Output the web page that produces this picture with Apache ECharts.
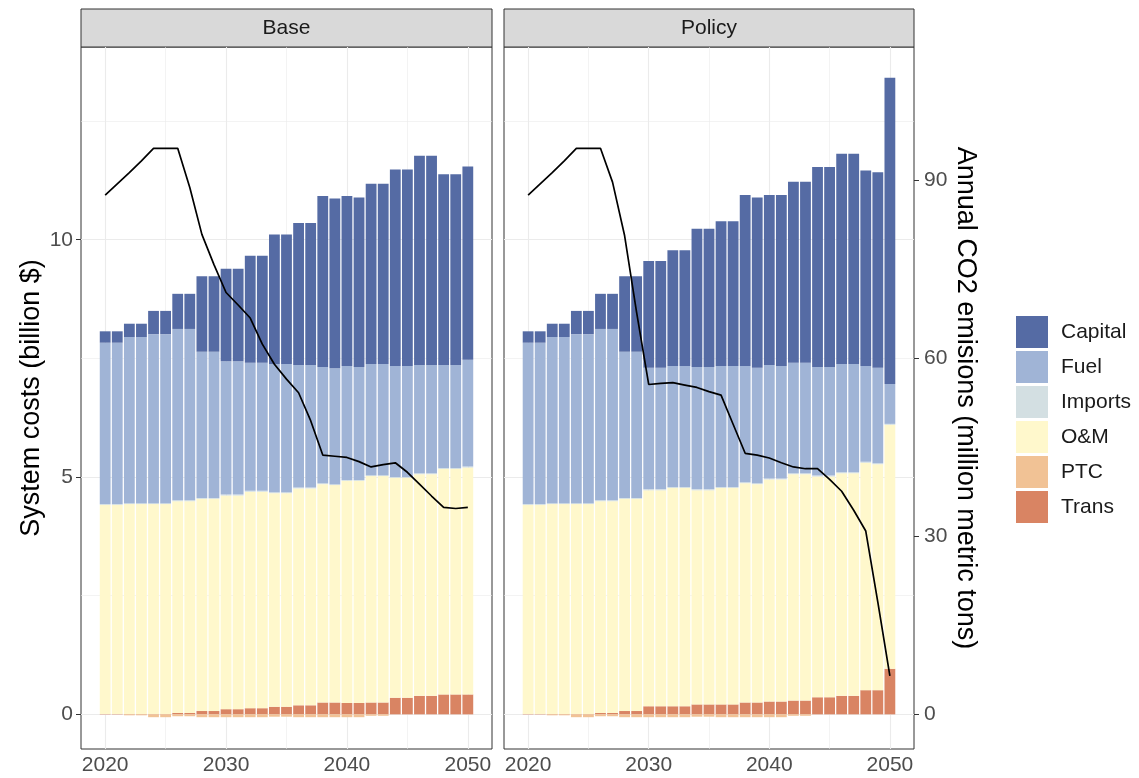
<!DOCTYPE html>
<html><head><meta charset="utf-8">
<script src="https://cdn.jsdelivr.net/npm/echarts@6/dist/echarts.min.js"></script>
<style>html,body{margin:0;padding:0;background:#fff}#c{width:1139px;height:778px}</style>
</head><body><div id="c"></div>
<script>
const years = ['2020','2021','2022','2023','2024','2025','2026','2027','2028','2029','2030','2031','2032','2033','2034','2035','2036','2037','2038','2039','2040','2041','2042','2043','2044','2045','2046','2047','2048','2049','2050'];
const padBefore = ['2018','2019'];
const padAfter = ['2051','2052'];
const panels = ['Base', 'Policy'];
const components = ['Capital', 'Fuel', 'Imports', 'O&M', 'PTC', 'Trans'];

// Base scenario (billion $)
const baseCapital = [0.24,0.24,0.28,0.28,0.49,0.49,0.74,0.74,1.59,1.59,1.95,1.95,2.25,2.25,2.73,2.73,2.99,2.99,3.60,3.58,3.58,3.57,3.80,3.80,4.14,4.14,4.41,4.41,4.02,4.02,4.07];
const baseFuel    = [3.40,3.40,3.50,3.50,3.56,3.56,3.61,3.61,3.08,3.08,2.81,2.81,2.70,2.70,2.70,2.70,2.58,2.58,2.45,2.44,2.40,2.38,2.34,2.34,2.34,2.34,2.28,2.28,2.17,2.17,2.25];
const baseImports = [0.02,0.02,0.02,0.02,0.02,0.02,0.02,0.02,0.02,0.02,0.02,0.02,0.02,0.02,0.02,0.02,0.02,0.02,0.02,0.02,0.02,0.02,0.02,0.02,0.02,0.02,0.02,0.02,0.02,0.02,0.02];
const baseOM      = [4.40,4.40,4.42,4.42,4.42,4.42,4.46,4.46,4.47,4.47,4.50,4.50,4.56,4.56,4.50,4.50,4.57,4.57,4.60,4.58,4.68,4.68,4.77,4.77,4.63,4.63,4.67,4.67,4.75,4.75,4.78];
const basePTC     = [0,0,-0.02,-0.02,-0.06,-0.06,-0.04,-0.04,-0.06,-0.06,-0.06,-0.06,-0.06,-0.06,-0.05,-0.05,-0.06,-0.06,-0.06,-0.06,-0.06,-0.06,-0.03,-0.03,0,0,0,0,0,0,0];
const baseTrans   = [0.01,0.01,0.01,0.01,0.01,0.01,0.03,0.03,0.07,0.07,0.11,0.11,0.13,0.13,0.16,0.16,0.19,0.19,0.25,0.25,0.24,0.24,0.25,0.25,0.35,0.35,0.39,0.39,0.42,0.42,0.42];
const baseCO2     = [87.5,89.4,91.3,93.3,95.4,95.4,95.4,88.8,80.9,75.8,71.1,69.0,66.8,62.4,59.0,56.5,54.2,49.5,43.7,43.5,43.3,42.6,41.7,42.1,42.4,40.8,38.8,36.8,34.9,34.7,34.9];

// Policy scenario (billion $)
const policyCapital = [0.24,0.24,0.28,0.28,0.49,0.49,0.74,0.74,1.59,1.59,2.25,2.25,2.44,2.44,2.91,2.91,3.05,3.05,3.60,3.59,3.58,3.60,3.81,3.81,4.21,4.21,4.43,4.43,4.12,4.12,6.45];
const policyFuel    = [3.40,3.40,3.50,3.50,3.56,3.56,3.61,3.61,3.08,3.08,2.56,2.56,2.55,2.55,2.58,2.58,2.55,2.55,2.45,2.43,2.39,2.37,2.33,2.33,2.29,2.29,2.28,2.28,2.02,2.01,0.84];
const policyImports = [0.02,0.02,0.02,0.02,0.02,0.02,0.02,0.02,0.02,0.02,0.02,0.02,0.02,0.02,0.02,0.02,0.02,0.02,0.02,0.02,0.02,0.02,0.02,0.02,0.02,0.02,0.02,0.02,0.02,0.02,0.02];
const policyOM      = [4.40,4.40,4.42,4.42,4.42,4.42,4.46,4.46,4.47,4.47,4.55,4.55,4.60,4.60,4.51,4.51,4.56,4.56,4.62,4.60,4.68,4.68,4.77,4.77,4.65,4.65,4.69,4.69,4.79,4.76,5.14];
const policyPTC     = [0,0,-0.02,-0.02,-0.06,-0.06,-0.04,-0.04,-0.06,-0.06,-0.06,-0.06,-0.06,-0.06,-0.05,-0.05,-0.06,-0.06,-0.06,-0.06,-0.06,-0.06,-0.03,-0.03,0,0,0,0,0,0,0];
const policyTrans   = [0.01,0.01,0.01,0.01,0.01,0.01,0.03,0.03,0.07,0.07,0.17,0.17,0.17,0.17,0.21,0.21,0.21,0.21,0.25,0.25,0.27,0.27,0.29,0.29,0.36,0.36,0.39,0.39,0.51,0.51,0.96];
const policyCO2     = [87.5,89.4,91.3,93.3,95.4,95.4,95.4,89.7,80.7,67.7,55.6,55.8,55.9,55.5,55.1,54.4,53.8,48.9,44.0,43.7,43.2,42.4,41.7,41.4,41.4,39.6,37.6,34.4,30.9,18.9,6.5];

const xTicks = ['2020', '2030', '2040', '2050'];
const xMinor = ['2025', '2035', '2045'];
const costTicks = [0, 5, 10];
const costMinor = [2.5, 7.5, 12.5];
const co2Ticks = [0, 30, 60, 90];

const colors = {Capital:'#556ba4', Fuel:'#a0b4d6', Imports:'#d3dfe2', 'O&M':'#fff8cc', PTC:'#f1c295', Trans:'#d98463'};
const FONT = "'Liberation Sans', Arial, Helvetica, sans-serif";

const panelData = [
  {Capital:baseCapital, Fuel:baseFuel, Imports:baseImports, 'O&M':baseOM, PTC:basePTC, Trans:baseTrans, CO2:baseCO2},
  {Capital:policyCapital, Fuel:policyFuel, Imports:policyImports, 'O&M':policyOM, PTC:policyPTC, Trans:policyTrans, CO2:policyCO2}
];

const axisCategories = padBefore.concat(years, padAfter);
const COST_MIN = -0.73, COST_MAX = 14.06, RATIO = 8;
const grids = [
  {left:81, top:47, width:411, height:702},
  {left:504, top:47, width:410, height:702}
];

const gridLineData = [].concat(
  xTicks.map(v => ({xAxis:v, lineStyle:{color:'#ebebeb', width:1.1, type:'solid'}})),
  xMinor.map(v => ({xAxis:v, lineStyle:{color:'#ebebeb', width:0.6, type:'solid'}})),
  costTicks.map(v => ({yAxis:v, lineStyle:{color:'#ebebeb', width:1.1, type:'solid'}})),
  costMinor.map(v => ({yAxis:v, lineStyle:{color:'#ebebeb', width:0.6, type:'solid'}}))
);

const series = [];
const stackOrder = ['Trans', 'PTC', 'O&M', 'Imports', 'Fuel', 'Capital'];
panels.forEach((p, pi) => {
  stackOrder.forEach((c, ci) => {
    const s = {
      name: c, type: 'bar', stack: 'cost' + pi, stackStrategy: 'samesign',
      xAxisIndex: pi, yAxisIndex: pi * 2,
      barWidth: 10.8,
      itemStyle: {color: colors[c]},
      data: years.map((y, i) => [y, panelData[pi][c][i]]),
      z: 2
    };
    if (ci === 0) {
      s.markLine = {silent:true, symbol:['none','none'], z:1, label:{show:false}, emphasis:{disabled:true}, animation:false, data: gridLineData};
    }
    series.push(s);
  });
  series.push({
    name: 'CO2 ' + p, type: 'line', xAxisIndex: pi, yAxisIndex: pi * 2 + 1,
    showSymbol: false, symbol: 'none',
    lineStyle: {color:'#000', width:1.7},
    data: years.map((y, i) => [y, panelData[pi].CO2[i]]),
    z: 5
  });
});

const isTick = (idx, val) => xTicks.indexOf(String(val)) >= 0;
const xAxisBase = gi => ({
  gridIndex: gi, type: 'category', data: axisCategories, boundaryGap: false,
  axisLine: {show:false},
  axisTick: {show:true, length:5, interval: isTick, alignWithLabel:true, lineStyle:{color:'#333', width:1}},
  axisLabel: {interval: isTick, color:'#4d4d4d', fontSize:21, fontFamily:FONT, margin:6},
  splitLine: {show:false}
});

const option = {
  animation: false,
  backgroundColor: '#fff',
  textStyle: {fontFamily: FONT},
  grid: grids.map(g => Object.assign({show:true, borderColor:'#333', borderWidth:1, backgroundColor:'#fff', containLabel:false}, g)),
  xAxis: [xAxisBase(0), xAxisBase(1)],
  yAxis: [
    {gridIndex:0, type:'value', min:COST_MIN, max:COST_MAX, position:'left',
     name:'System costs (billion $)', nameLocation:'middle', nameRotate:90, nameGap:36,
     nameTextStyle:{fontSize:27, color:'#000', fontFamily:FONT},
     axisLine:{show:false},
     axisTick:{show:true, length:5, customValues:costTicks, lineStyle:{color:'#333', width:1}},
     axisLabel:{customValues:costTicks, color:'#4d4d4d', fontSize:21, fontFamily:FONT, margin:8},
     splitLine:{show:false}},
    {gridIndex:0, type:'value', min:COST_MIN*RATIO, max:COST_MAX*RATIO, position:'right', show:false},
    {gridIndex:1, type:'value', min:COST_MIN, max:COST_MAX, position:'left', show:false},
    {gridIndex:1, type:'value', min:COST_MIN*RATIO, max:COST_MAX*RATIO, position:'right',
     name:'Annual CO2 emisions (million metric tons)', nameLocation:'middle', nameRotate:-90, nameGap:38,
     nameTextStyle:{fontSize:27, color:'#000', fontFamily:FONT},
     axisLine:{show:false},
     axisTick:{show:true, length:5, customValues:co2Ticks, lineStyle:{color:'#333', width:1}},
     axisLabel:{customValues:co2Ticks, color:'#4d4d4d', fontSize:21, fontFamily:FONT, margin:10},
     splitLine:{show:false}}
  ],
  legend: {
    orient:'vertical', left:1016, top:316, padding:0, itemWidth:32, itemHeight:32, itemGap:3,
    icon:'rect', data: components,
    textStyle:{fontSize:21, color:'#1a1a1a', fontFamily:FONT, padding:[0,0,0,8]},
    selectedMode:false
  },
  graphic: panels.map((p, pi) => ({
    type:'group', children:[
      {type:'rect', shape:{x:grids[pi].left, y:9, width:grids[pi].width, height:38}, style:{fill:'#d9d9d9', stroke:'#333', lineWidth:1}},
      {type:'text', x:grids[pi].left + grids[pi].width/2, y:28,
       style:{text:p, fontSize:21, fontFamily:FONT, fill:'#1a1a1a', align:'center', verticalAlign:'middle', textAlign:'center', textVerticalAlign:'middle'}}
    ]
  })),
  series: series
};

const chart = echarts.init(document.getElementById('c'), null, {renderer:'canvas'});
chart.setOption(option);
</script>
</body></html>
